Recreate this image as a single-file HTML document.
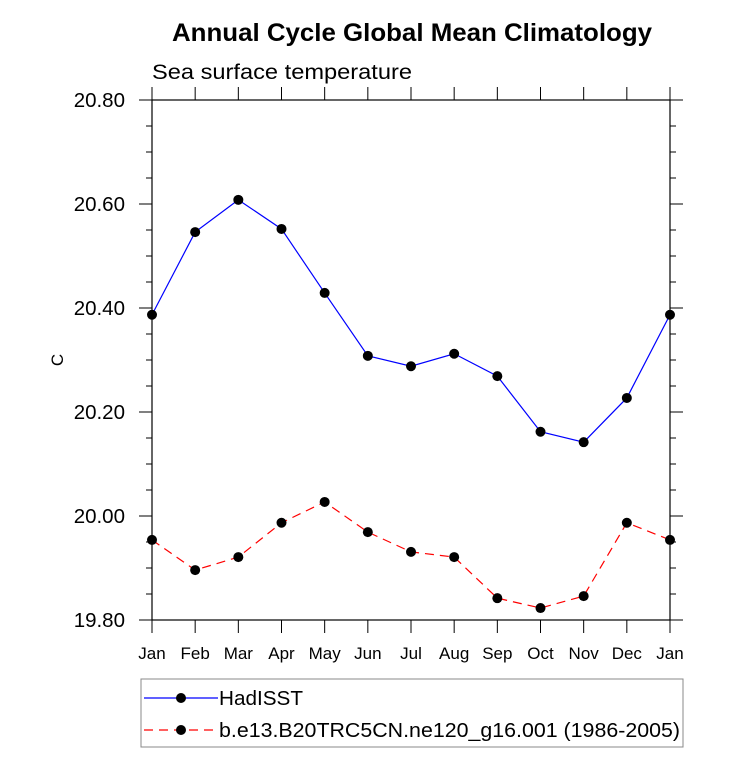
<!DOCTYPE html>
<html><head><meta charset="utf-8"><style>
body{margin:0;background:#fff;width:733px;height:754px;overflow:hidden}
svg text{font-family:"Liberation Sans",Arial,sans-serif;fill:#000}
</style></head><body>
<svg id="chart" width="733" height="754">
<text x="172" y="41" font-size="25" font-weight="bold" textLength="480" lengthAdjust="spacingAndGlyphs">Annual Cycle Global Mean Climatology</text>
<text x="152" y="79" font-size="21" textLength="260" lengthAdjust="spacingAndGlyphs">Sea surface temperature</text>
<text x="0" y="0" font-size="17" text-anchor="middle" transform="translate(63,360) rotate(-90)">C</text>
<g id="axes"></g>
<g id="series"></g>
<rect x="141" y="679" width="542" height="68" fill="none" stroke="#888" stroke-width="1"/>
<g>
<line x1="144" y1="698" x2="218" y2="698" stroke="#00f" stroke-width="1.2"/>
<circle cx="181" cy="698" r="5" fill="#000"/>
<text x="219" y="705" font-size="20" textLength="84" lengthAdjust="spacingAndGlyphs">HadISST</text></g>
<g>
<line x1="144" y1="730" x2="218" y2="730" stroke="#f00" stroke-width="1.2" stroke-dasharray="9,6"/>
<circle cx="181" cy="730" r="5" fill="#000"/>
<text x="219" y="737" font-size="20" textLength="461" lengthAdjust="spacingAndGlyphs">b.e13.B20TRC5CN.ne120_g16.001 (1986-2005)</text></g>
</svg>
<script>
const months=["Jan","Feb","Mar","Apr","May","Jun","Jul","Aug","Sep","Oct","Nov","Dec","Jan"];
const hadisst=[20.387,20.546,20.608,20.552,20.429,20.308,20.288,20.312,20.269,20.162,20.142,20.227,20.387];
const model=[19.954,19.896,19.921,19.987,20.027,19.969,19.931,19.921,19.842,19.823,19.846,19.987,19.954];
const yTicks=[19.8,20.0,20.2,20.4,20.6,20.8];
const yTickLabels=["19.80","20.00","20.20","20.40","20.60","20.80"];
const L=152,R=670,T=100,B=620,yMin=19.8,yMax=20.8;
const NS="http://www.w3.org/2000/svg";
function xS(i){return L+(R-L)*i/(months.length-1);}
function yS(v){return B-(v-yMin)/(yMax-yMin)*(B-T);}
function mk(tag,attrs,parent){const e=document.createElementNS(NS,tag);for(const k in attrs)e.setAttribute(k,attrs[k]);parent.appendChild(e);return e;}
const ax=document.getElementById('axes');
const frame=mk('rect',{x:L,y:T,width:R-L,height:B-T,fill:'none',stroke:'#000','stroke-width':1.2},ax);


months.forEach((m,i)=>{const x=xS(i);
mk('line',{x1:x,y1:B,x2:x,y2:B+13,stroke:'#000'},ax);
mk('line',{x1:x,y1:T,x2:x,y2:T-13,stroke:'#000'},ax);
const t=mk('text',{x:x,y:B+39,'font-size':17,'text-anchor':'middle'},ax);t.textContent=m;

});
for(let v=yMin;v<=yMax+1e-9;v+=0.05){const y=yS(v);const major=Math.abs((v-yMin)/0.2-Math.round((v-yMin)/0.2))<1e-6;const len=major?13:6;
mk('line',{x1:L-len,y1:y,x2:L,y2:y,stroke:'#000'},ax);
mk('line',{x1:R,y1:y,x2:R+len,y2:y,stroke:'#000'},ax);}
yTicks.forEach((v,i)=>{const t=mk('text',{x:125,y:yS(v)+7,'font-size':20.5,'text-anchor':'end'},ax);t.textContent=yTickLabels[i];

});
const sg=document.getElementById('series');
function draw(data,color,dash,name){
const p=mk('polyline',{points:data.map((v,i)=>xS(i)+','+yS(v)).join(' '),fill:'none',stroke:color,'stroke-width':1.2,'stroke-dasharray':dash},sg);


data.forEach((v,i)=>{const c=mk('circle',{cx:xS(i),cy:yS(v),r:5,fill:'#000'},sg);

});}
draw(hadisst,'#00f','none','hadisst');
draw(model,'#f00','9,6','model');
</script>
</body></html>
